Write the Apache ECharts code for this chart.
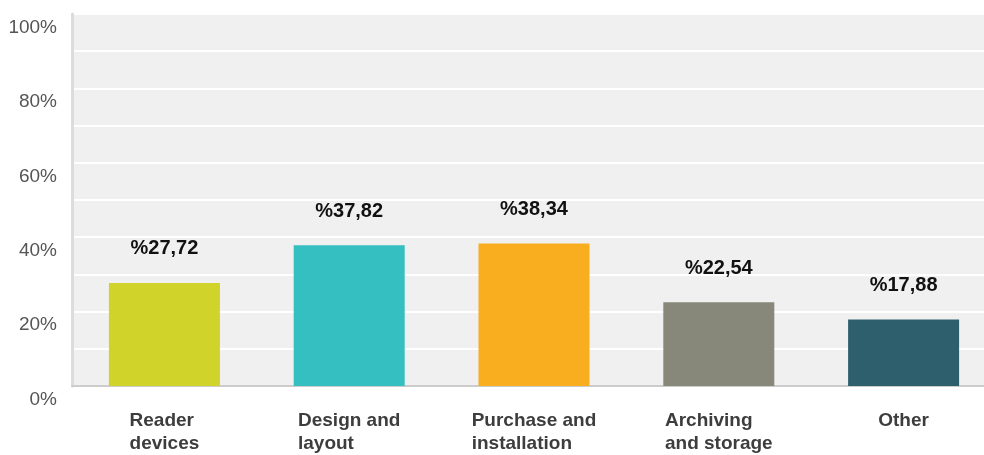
<!DOCTYPE html>
<html><head><meta charset="utf-8">
<script src="https://cdn.jsdelivr.net/npm/echarts@6/dist/echarts.min.js"></script>
<style>html,body{margin:0;padding:0;background:#fff}#c{width:984px;height:455px}</style>
</head><body><div id="c"></div>
<script>
const categories = ['Reader\ndevices', 'Design and\nlayout', 'Purchase and\ninstallation', 'Archiving\nand storage', 'Other'];
const values = [27.72, 37.82, 38.34, 22.54, 17.88];
const valueLabels = ['%27,72', '%37,82', '%38,34', '%22,54', '%17,88'];
const colors = ['#cfd32a', '#35bfc0', '#f8ae1e', '#87887a', '#2e5f6c'];
const yTicks = [0, 20, 40, 60, 80, 100];

const chart = echarts.init(document.getElementById('c'), null, {renderer: 'canvas'});
chart.setOption({
  animation: false,
  textStyle: {fontFamily: 'Liberation Sans, Arial, sans-serif'},
  grid: {left: 72, width: 924, top: 14, bottom: 69, show: true, backgroundColor: '#f0f0f0', borderWidth: 0, containLabel: false, outerBoundsMode: 'none'},
  xAxis: {
    type: 'category',
    data: categories,
    axisLine: {show: true, lineStyle: {color: '#cccccc', width: 2}},
    axisTick: {show: false},
    axisLabel: {
      margin: 23,
      formatter: v => v.split('\n').map(s => '{a|' + s + '}').join('\n'),
      rich: {a: {align: 'left', fontSize: 19, fontWeight: 'bold', color: '#3d3d3d', lineHeight: 23, fontFamily: 'Liberation Sans, Arial, sans-serif'}}
    }
  },
  yAxis: {
    type: 'value', min: 0, max: 100, interval: 10,
    axisLine: {show: true, lineStyle: {color: '#dcdcdc', width: 3}},
    axisTick: {show: false},
    splitLine: {show: true, lineStyle: {color: '#ffffff', width: 2}},
    axisLabel: {
      margin: 15, fontSize: 19, color: '#555555', verticalAlign: 'top', lineHeight: 27,
      formatter: v => yTicks.indexOf(v) >= 0 ? v + '%' : ''
    }
  },
  series: [{
    type: 'bar',
    barWidth: 111,
    data: values.map((v, i) => ({value: v, itemStyle: {color: colors[i]}})),
    label: {
      show: true, position: 'top', distance: 24,
      fontSize: 20, fontWeight: 'bold', color: '#111111',
      formatter: p => valueLabels[p.dataIndex]
    }
  }]
});
</script></body></html>
